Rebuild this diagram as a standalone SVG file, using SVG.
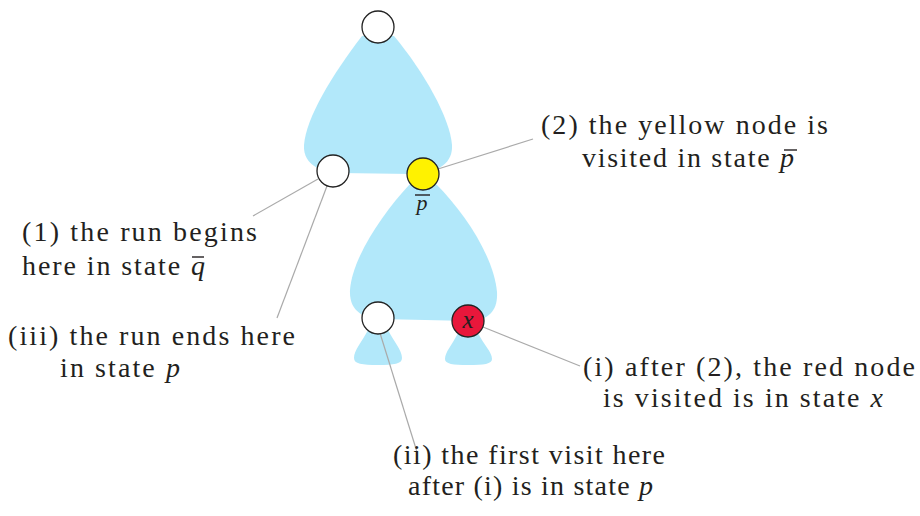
<svg xmlns="http://www.w3.org/2000/svg" width="920" height="516" viewBox="0 0 920 516">
<style>
.blob{fill:#b2e8fa;stroke:none}
.node{stroke:#222;stroke-width:1.3}
.w{fill:#fff}
.lbl{font-family:"Liberation Serif",serif;font-size:28px;fill:#231f20}
.sm{font-size:22px}
.md{font-size:25px}
.m{font-style:italic}
.bar{stroke:#231f20;stroke-width:1.4}
.conn line{stroke:#aaa;stroke-width:1.2}
</style>
<rect width="920" height="516" fill="#fff"/>
<g id="blobs">
<path class="blob" d="M362,36 C332,75 306,118 304,145 C303,166 322,172 340,173 L412,174 C440,173 453,162 452,145 C450,118 424,72 394,36 Z"/>
<path class="blob" d="M410,184 C380,216 352,260 350,290 C349,312 364,318 380,319 L470,321 C489,320 498,310 497,292 C494,258 466,214 436,184 Z"/>
<path class="blob" d="M368,330 C362,342 354,350 354,358 C354,364 362,365 378,365 C394,365 402,364 402,358 C402,350 394,342 388,330 Z"/>
<path class="blob" d="M458,333 C452,345 445,352 445,359 C445,364 453,365 468,365 C484,365 492,364 492,359 C492,352 484,345 478,333 Z"/>
</g>
<g class="conn" id="connectors">
<line x1="318" y1="179" x2="253" y2="216"/>
<line x1="327" y1="186" x2="277" y2="318"/>
<line x1="438" y1="169" x2="533" y2="139"/>
<line x1="483" y1="327" x2="580" y2="366"/>
<line x1="380" y1="333" x2="417" y2="452"/>
</g>
<g id="n-top"><circle class="node w" cx="378" cy="27" r="16"/></g>
<g id="n-left"><circle class="node w" cx="333" cy="171" r="16"/></g>
<g id="n-yellow"><circle class="node" fill="#fff200" cx="423" cy="174" r="16"/>
<text class="lbl sm m" x="422" y="210" text-anchor="middle">p</text>
<line class="bar" x1="415" y1="195" x2="430" y2="195"/></g>
<g id="n-bottom-left"><circle class="node w" cx="378" cy="318" r="16"/></g>
<g id="n-red"><circle class="node" fill="#e8173b" cx="468" cy="321" r="16"/>
<text class="lbl md m" x="468" y="328" text-anchor="middle">x</text></g>
<g id="label-1">
<text class="lbl" x="22" y="241" textLength="235" lengthAdjust="spacing">(1) the run begins</text>
<text class="lbl" x="22" y="275" textLength="183" lengthAdjust="spacing">here in state <tspan class="m">q</tspan></text>
<line class="bar" x1="192" y1="257" x2="204" y2="257"/>
</g>
<g id="label-iii">
<text class="lbl" x="8" y="345" textLength="287" lengthAdjust="spacing">(iii) the run ends here</text>
<text class="lbl" x="60" y="377" textLength="120" lengthAdjust="spacing">in state <tspan class="m">p</tspan></text>
</g>
<g id="label-2">
<text class="lbl" x="541" y="134" textLength="287" lengthAdjust="spacing">(2) the yellow node is</text>
<text class="lbl" x="582" y="167" textLength="212" lengthAdjust="spacing">visited in state <tspan class="m">p</tspan></text>
<line class="bar" x1="784" y1="150" x2="797" y2="150"/>
</g>
<g id="label-i">
<text class="lbl" x="583" y="376" textLength="332" lengthAdjust="spacing">(i) after (2), the red node</text>
<text class="lbl" x="603" y="407" textLength="280" lengthAdjust="spacing">is visited is in state <tspan class="m">x</tspan></text>
</g>
<g id="label-ii">
<text class="lbl" x="393" y="464" textLength="272" lengthAdjust="spacing">(ii) the first visit here</text>
<text class="lbl" x="408" y="495" textLength="245" lengthAdjust="spacing">after (i) is in state <tspan class="m">p</tspan></text>
</g>
</svg>
